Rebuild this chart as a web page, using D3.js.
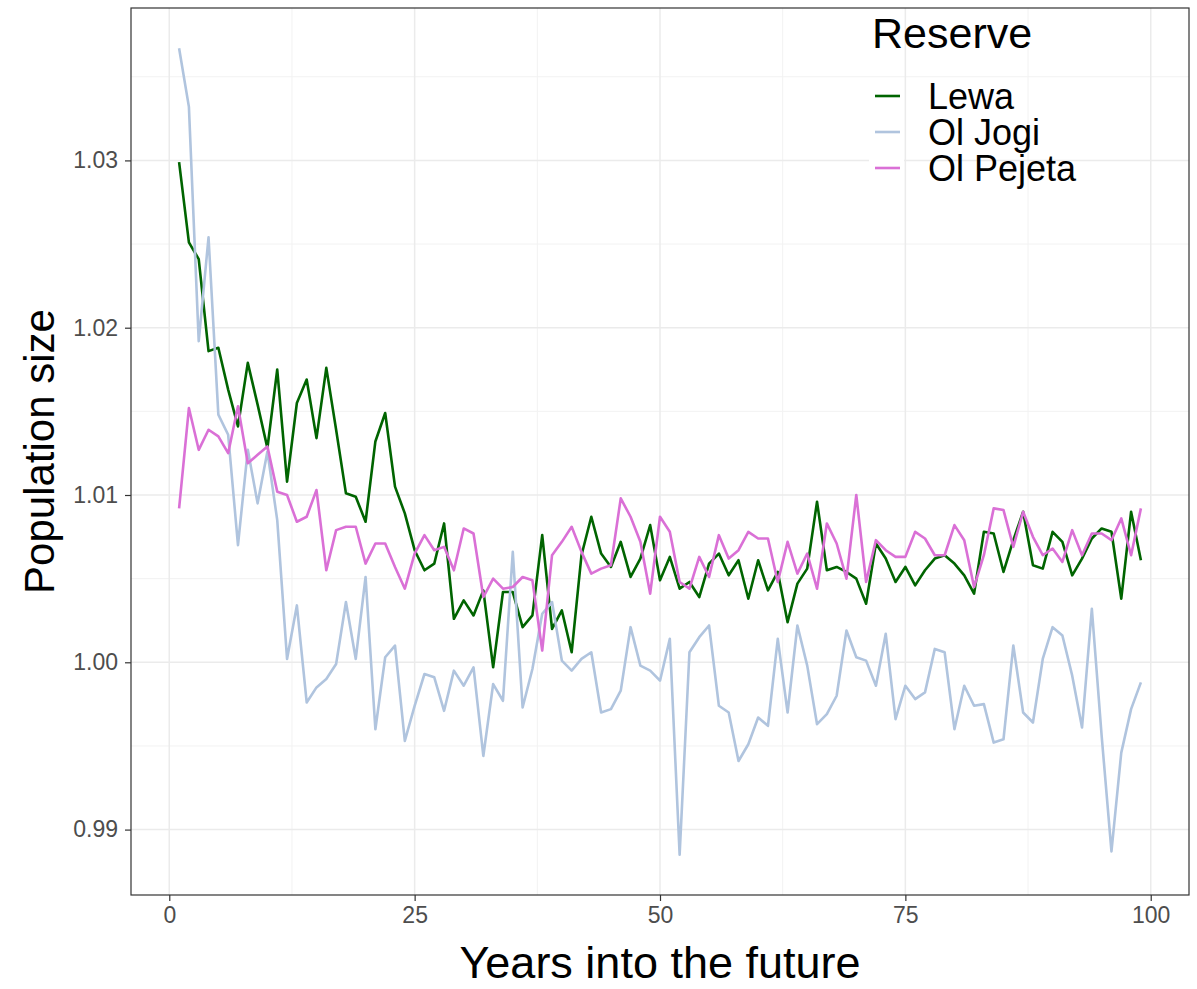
<!DOCTYPE html>
<html>
<head>
<meta charset="utf-8">
<script src="https://cdn.jsdelivr.net/npm/d3@7"></script>
<style>
  body { margin: 0; background: #fff; }
  text { font-family: 'Liberation Sans', Arial, sans-serif; }
</style>
</head>
<body>
<main></main>
<script>
// data
var years = d3.range(1, 100)

var lewa = [
    1.0299, 1.0251, 1.0241, 1.0186, 1.0188, 1.0163, 1.0141, 1.0179, 1.0154, 1.0128,
    1.0175, 1.0108, 1.0155, 1.0169, 1.0134, 1.0176, 1.0139, 1.0101, 1.0099, 1.0084,
    1.0132, 1.0149, 1.0105, 1.0089, 1.0067, 1.0055, 1.0059, 1.0083, 1.0026, 1.0037,
    1.0028, 1.0043, 0.9997, 1.0042, 1.0042, 1.0021, 1.0028, 1.0076, 1.0020, 1.0031,
    1.0006, 1.0064, 1.0087, 1.0065, 1.0057, 1.0072, 1.0051, 1.0062, 1.0082, 1.0049,
    1.0063, 1.0044, 1.0048, 1.0039, 1.0059, 1.0065, 1.0052, 1.0061, 1.0038, 1.0061,
    1.0043, 1.0054, 1.0024, 1.0047, 1.0056, 1.0096, 1.0055, 1.0057, 1.0054, 1.0050,
    1.0035, 1.0071, 1.0062, 1.0048, 1.0057, 1.0046, 1.0055, 1.0062, 1.0064, 1.0059,
    1.0052, 1.0041, 1.0078, 1.0077, 1.0054, 1.0073, 1.0090, 1.0058, 1.0056, 1.0078,
    1.0072, 1.0052, 1.0062, 1.0074, 1.0080, 1.0078, 1.0038, 1.0090, 1.0061
]

var olJogi = [
    1.0367, 1.0332, 1.0192, 1.0254, 1.0148, 1.0136, 1.0070, 1.0127, 1.0095, 1.0126,
    1.0085, 1.0002, 1.0034, 0.9976, 0.9985, 0.9990, 0.9999, 1.0036, 1.0002, 1.0051,
    0.9960, 1.0003, 1.0010, 0.9953, 0.9974, 0.9993, 0.9991, 0.9971, 0.9995, 0.9986,
    0.9997, 0.9944, 0.9987, 0.9977, 1.0066, 0.9973, 0.9996, 1.0029, 1.0036, 1.0001,
    0.9995, 1.0002, 1.0006, 0.9970, 0.9972, 0.9983, 1.0021, 0.9998, 0.9995, 0.9989,
    1.0014, 0.9885, 1.0006, 1.0015, 1.0022, 0.9974, 0.9970, 0.9941, 0.9951, 0.9967,
    0.9962, 1.0014, 0.9970, 1.0022, 0.9998, 0.9963, 0.9969, 0.9980, 1.0019, 1.0003,
    1.0001, 0.9986, 1.0017, 0.9966, 0.9986, 0.9978, 0.9982, 1.0008, 1.0006, 0.9960,
    0.9986, 0.9974, 0.9975, 0.9952, 0.9954, 1.0010, 0.9970, 0.9964, 1.0002, 1.0021,
    1.0016, 0.9992, 0.9961, 1.0032, 0.9956, 0.9887, 0.9946, 0.9972, 0.9988
]

var olPejeta = [
    1.0092, 1.0152, 1.0127, 1.0139, 1.0135, 1.0125, 1.0153, 1.0119, 1.0124, 1.0129,
    1.0102, 1.0100, 1.0084, 1.0087, 1.0103, 1.0055, 1.0079, 1.0081, 1.0081, 1.0059,
    1.0071, 1.0071, 1.0057, 1.0044, 1.0065, 1.0076, 1.0067, 1.0069, 1.0055, 1.0080,
    1.0077, 1.0039, 1.0050, 1.0044, 1.0045, 1.0051, 1.0049, 1.0007, 1.0064, 1.0072,
    1.0081, 1.0066, 1.0053, 1.0056, 1.0058, 1.0098, 1.0087, 1.0072, 1.0041, 1.0087,
    1.0078, 1.0048, 1.0044, 1.0063, 1.0051, 1.0076, 1.0062, 1.0067, 1.0078, 1.0074,
    1.0074, 1.0048, 1.0072, 1.0053, 1.0065, 1.0044, 1.0083, 1.0071, 1.0050, 1.0100,
    1.0048, 1.0073, 1.0067, 1.0063, 1.0063, 1.0078, 1.0074, 1.0064, 1.0064, 1.0082,
    1.0073, 1.0045, 1.0064, 1.0092, 1.0091, 1.0069, 1.0090, 1.0075, 1.0064, 1.0068,
    1.0060, 1.0079, 1.0064, 1.0077, 1.0077, 1.0073, 1.0086, 1.0064, 1.0092
]

var reserves = ['Lewa', 'Ol Jogi', 'Ol Pejeta']
var colours = ['#006400', '#B0C4DE', '#DA70D6']
var xTicks = [0, 25, 50, 75, 100]
var xMinor = [12.5, 37.5, 62.5, 87.5]
var yTicks = [0.99, 1.00, 1.01, 1.02, 1.03]
var yMinor = [0.995, 1.005, 1.015, 1.025, 1.035]

var series = [lewa, olJogi, olPejeta].map((vals, i) => ({
    name: reserves[i],
    colour: colours[i],
    values: years.map((yr, j) => ({ year: yr, value: vals[j] }))
}))

var W = 1197, H = 989
var margin = { top: 8, right: 8, bottom: 94, left: 131 },
    width = W - margin.left - margin.right,
    height = H - margin.top - margin.bottom

// ggplot style 5% expansion on both axes
function expand (ext) {
    var pad = (ext[1] - ext[0]) * 0.05
    return [ext[0] - pad, ext[1] + pad]
}
var allVals = lewa.concat(olJogi, olPejeta)

var x = d3.scaleLinear().domain(expand(d3.extent(years))).range([0, width])
var y = d3.scaleLinear().domain(expand(d3.extent(allVals))).range([height, 0])

var valueline = d3.line()
    .x(d => x(d.year))
    .y(d => y(d.value))

var svg = d3.select('main').append('svg')
    .attr('width', W)
    .attr('height', H)

svg.append('rect').attr('width', W).attr('height', H).attr('fill', '#fff')

var g = svg.append('g')
    .attr('transform', `translate(${margin.left}, ${margin.top})`)

// minor grid
g.append('g').selectAll('line').data(xMinor).enter().append('line')
    .attr('x1', d => x(d)).attr('x2', d => x(d))
    .attr('y1', 0).attr('y2', height)
    .attr('stroke', '#F2F2F2').attr('stroke-width', 1)
g.append('g').selectAll('line').data(yMinor).enter().append('line')
    .attr('y1', d => y(d)).attr('y2', d => y(d))
    .attr('x1', 0).attr('x2', width)
    .attr('stroke', '#F2F2F2').attr('stroke-width', 1)

// major grid
g.append('g').selectAll('line').data(xTicks).enter().append('line')
    .attr('x1', d => x(d)).attr('x2', d => x(d))
    .attr('y1', 0).attr('y2', height)
    .attr('stroke', '#EBEBEB').attr('stroke-width', 1.5)
g.append('g').selectAll('line').data(yTicks).enter().append('line')
    .attr('y1', d => y(d)).attr('y2', d => y(d))
    .attr('x1', 0).attr('x2', width)
    .attr('stroke', '#EBEBEB').attr('stroke-width', 1.5)

// legend keys sit on a white background over the grid
var legX = 869, legY = 78, keyH = 36
svg.append('g').selectAll('rect').data(series).enter().append('rect')
    .attr('x', legX).attr('y', (d, i) => legY + i * keyH)
    .attr('width', 35).attr('height', keyH)
    .attr('fill', '#fff')

// lines
g.append('g').selectAll('path').data(series).enter().append('path')
    .attr('d', d => valueline(d.values))
    .attr('fill', 'none')
    .attr('stroke', d => d.colour)
    .attr('stroke-width', 2.6)
    .attr('stroke-linejoin', 'round')

// panel border
g.append('rect')
    .attr('width', width).attr('height', height)
    .attr('fill', 'none').attr('stroke', '#333333').attr('stroke-width', 1.2)

// axes
var xAxis = g.append('g')
    .attr('transform', `translate(0, ${height})`)
    .call(d3.axisBottom(x).tickValues(xTicks).tickSize(6).tickPadding(6).tickFormat(d3.format('d')))
var yAxis = g.append('g')
    .call(d3.axisLeft(y).tickValues(yTicks).tickSize(6).tickPadding(7).tickFormat(d3.format('.2f')))

;[xAxis, yAxis].forEach(a => {
    a.select('.domain').remove()
    a.selectAll('line').attr('stroke', '#333333').attr('stroke-width', 1.2)
    a.selectAll('text')
        .attr('fill', '#4D4D4D')
        .style('font-size', '23px')
        .style('font-family', "'Liberation Sans', Arial, sans-serif")
})

// axis titles
svg.append('text')
    .attr('x', margin.left + width / 2)
    .attr('y', 978)
    .style('text-anchor', 'middle')
    .style('font-size', '45px')
    .text('Years into the future')

svg.append('text')
    .attr('transform', `translate(54, ${margin.top + height / 2}) rotate(-90)`)
    .style('text-anchor', 'middle')
    .style('font-size', '42px')
    .text('Population size')

// legend
svg.append('text')
    .attr('x', 872).attr('y', 48)
    .style('font-size', '43px')
    .text('Reserve')

var leg = svg.append('g').selectAll('g').data(series).enter().append('g')
    .attr('transform', (d, i) => `translate(${legX}, ${legY + i * keyH + keyH / 2})`)
leg.append('line')
    .attr('x1', 6).attr('x2', 31)
    .attr('stroke', d => d.colour).attr('stroke-width', 2.6)
leg.append('text')
    .attr('x', 59).attr('dy', '0.35em')
    .style('font-size', '36px')
    .text(d => d.name)
</script>
</body>
</html>
